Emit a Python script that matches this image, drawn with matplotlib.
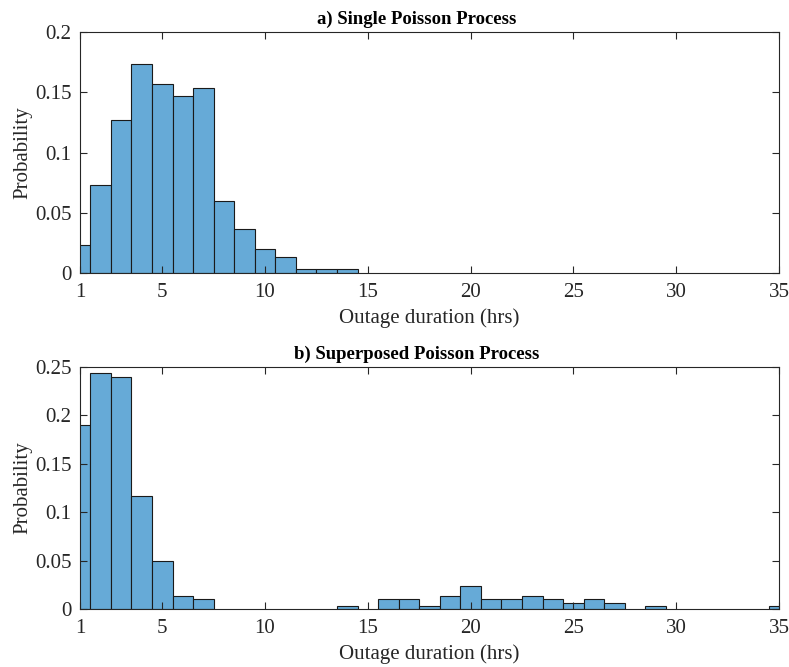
import matplotlib
matplotlib.use("Agg")
import matplotlib.pyplot as plt
import numpy as np

plt.rcParams['font.family'] = ['Liberation Serif', 'DejaVu Serif']
plt.rcParams['font.size'] = 15

# a) Single Poisson process - bin centres (hrs) and probability
single_hrs = [1, 2, 3, 4, 5, 6, 7, 8, 9, 10, 11, 12, 13, 14]
single_prob = [0.0233, 0.0733, 0.1267, 0.1733, 0.1567, 0.1467, 0.1533,
               0.0600, 0.0367, 0.0200, 0.0133, 0.0033, 0.0033, 0.0033]

# b) Superposed Poisson process
super_hrs = [1, 2, 3, 4, 5, 6, 7, 14, 16, 17, 18, 19, 20, 21, 22, 23, 24,
             25, 26, 27, 29, 35]
super_prob = [0.1900, 0.2433, 0.2400, 0.1167, 0.0500, 0.0133, 0.0100,
              0.0033, 0.0100, 0.0100, 0.0033, 0.0133, 0.0233, 0.0100,
              0.0100, 0.0133, 0.0100, 0.0067, 0.0100, 0.0067, 0.0033, 0.0033]

bar_color = "#66AAD7"
axis_color = "#262626"

fig = plt.figure(figsize=(7.89, 6.67), dpi=100)
ax1 = fig.add_axes([80/789, 1 - 273/667, 699/789, 241/667])
ax2 = fig.add_axes([80/789, 1 - 609/667, 699/789, 242/667])


def draw_hist(ax, x, y, title, ymax, yticks):
    ax.bar(x, y, width=1.0, color=bar_color, edgecolor="#1a1a1a", linewidth=0.8)
    ax.set_xlim(1, 35)
    ax.set_ylim(0, ymax)
    ax.set_xticks([1, 5, 10, 15, 20, 25, 30, 35])
    ax.set_yticks(yticks)
    ax.set_yticklabels(["0" if t == 0 else ("%g" % t) for t in yticks])
    ax.tick_params(direction="in", top=True, right=True, length=5, width=0.8,
                   color=axis_color, labelcolor=axis_color)
    ax.tick_params(axis="x", pad=7)
    ax.tick_params(axis="y", pad=6)
    # title sits slightly left of centre, as in the original figure
    ax.set_title(title, fontweight="bold", fontsize=13.5, pad=6, x=0.481)
    ax.set_xlabel("Outage duration (hrs)", labelpad=5, color=axis_color)
    ax.set_ylabel("Probability", labelpad=2, color=axis_color)
    for s in ax.spines.values():
        s.set_linewidth(0.8)
        s.set_color(axis_color)


draw_hist(ax1, single_hrs, single_prob, "a) Single Poisson Process", 0.2,
          [0, 0.05, 0.1, 0.15, 0.2])
draw_hist(ax2, super_hrs, super_prob, "b) Superposed Poisson Process", 0.25,
          [0, 0.05, 0.1, 0.15, 0.2, 0.25])

fig.savefig("out.png", dpi=100)
